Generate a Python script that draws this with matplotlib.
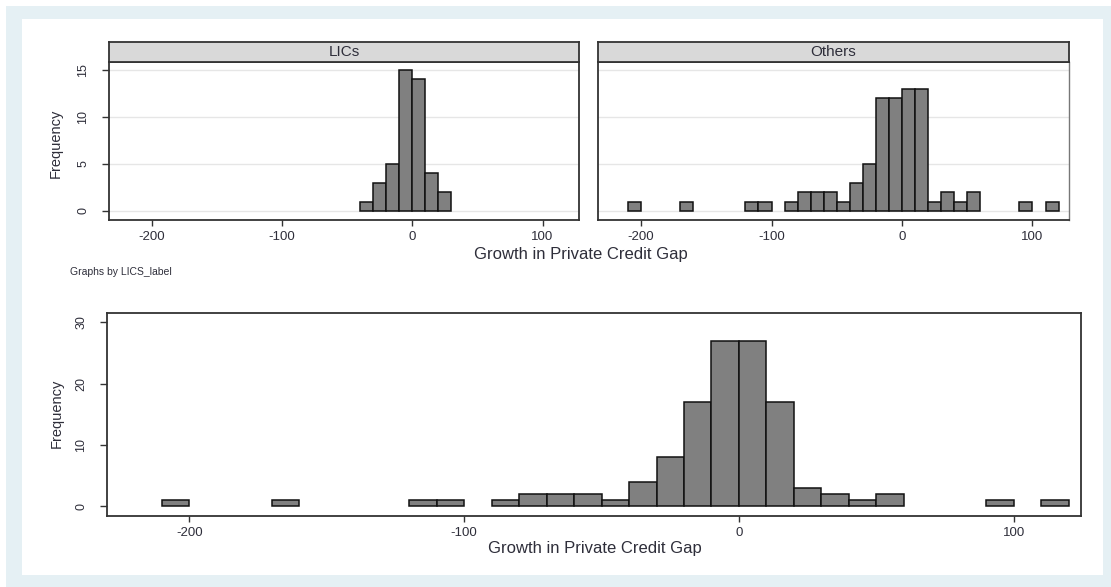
import numpy as np
import matplotlib
matplotlib.use('Agg')
import matplotlib.pyplot as plt
from matplotlib.patches import Rectangle

# histogram bins (width 10), left edges from -210 up to 110
bin_left = list(range(-210, 120, 10))
bin_width = 10

# frequencies
lics_counts = [0, 0, 0, 0, 0, 0, 0, 0, 0, 0, 0, 0, 0, 0, 0, 0, 0,
               1, 3, 5, 15, 14, 4, 2,
               0, 0, 0, 0, 0, 0, 0, 0, 0]
others_counts = [1, 0, 0, 0, 1, 0, 0, 0, 0, 1, 1, 0, 1, 2, 2, 2, 1,
                 3, 5, 12, 12, 13, 13, 1, 2, 1, 2, 0, 0, 0, 1, 0, 1]
panel_names = ['LICs', 'Others']

x_ticks = [-200, -100, 0, 100]
top_y_ticks = [0, 5, 10, 15]
bottom_y_ticks = [0, 10, 20, 30]
x_title = 'Growth in Private Credit Gap'
y_title = 'Frequency'
by_note = 'Graphs by LICS_label'

W, H = 1111, 587
plt.rcParams['font.family'] = ['Liberation Sans', 'DejaVu Sans']
plt.rcParams['axes.unicode_minus'] = False
txt = '#2e2e3a'
bar_fill = '#808080'
frame = '#333333'


def box(l, t, r, b):
    """pixel box -> figure fraction"""
    return [l / W, 1 - b / H, (r - l) / W, (b - t) / H]


def draw_hist(ax, counts):
    xs = [x for x, c in zip(bin_left, counts) if c > 0]
    hs = [c for c in counts if c > 0]
    ax.bar(xs, hs, width=bin_width, align='edge', color=bar_fill,
           edgecolor='#111111', linewidth=1.1, zorder=3)


def style(ax, ylabels=True):
    for s in ax.spines.values():
        s.set_color(frame)
        s.set_linewidth(1.3)
    ax.tick_params(axis='x', length=4, width=1, color=frame, pad=4,
                   labelsize=9.5, labelcolor=txt)
    ax.tick_params(axis='y', length=5, width=1, color=frame, pad=9,
                   labelsize=9, labelcolor=txt, labelrotation=90)
    for lab in ax.get_yticklabels():
        lab.set_va('center')
    if not ylabels:
        ax.tick_params(axis='y', length=0, labelleft=False)


fig = plt.figure(figsize=(W / 100, H / 100), dpi=100)
fig.patch.set_facecolor('white')
fig.add_artist(Rectangle((6 / W, 0), 1, 1 - 6 / H, transform=fig.transFigure,
                         facecolor='#e5f0f4', edgecolor='none', zorder=-5))
fig.add_artist(Rectangle((22 / W, 1 - 575 / H), (1103 - 22) / W, (575 - 19) / H,
                         transform=fig.transFigure, facecolor='white',
                         edgecolor='none', zorder=-4))

# top: by-group panels
panels = [(109, 579), (598, 1069)]
for i, (name, counts) in enumerate(zip(panel_names, [lics_counts, others_counts])):
    l, r = panels[i]
    ax = fig.add_axes(box(l, 62, r, 220))
    for g in top_y_ticks:
        ax.axhline(g, color='#e6e6e6', linewidth=1, zorder=1)
    draw_hist(ax, counts)
    ax.set_xlim(-233, 128)
    ax.set_ylim(-0.96, 15.85)
    ax.set_xticks(x_ticks)
    ax.set_yticks(top_y_ticks)
    style(ax, ylabels=(i == 0))
    if i == 1:
        ax.spines['right'].set_color('#777777')
        ax.spines['right'].set_linewidth(1)

    st = fig.add_axes(box(l, 42, r, 62))
    st.set_facecolor('#d9d9d9')
    st.set_xticks([])
    st.set_yticks([])
    for s in st.spines.values():
        s.set_color(frame)
        s.set_linewidth(1.3)
    st.text(0.5, 0.5, name, ha='center', va='center', fontsize=11,
            color=txt, transform=st.transAxes)

fig.text(581 / W, 1 - 255 / H, x_title, ha='center', va='center',
         fontsize=12, color=txt)
fig.text(56 / W, 1 - 143 / H, y_title, ha='center', va='center',
         rotation=90, fontsize=10.5, color=txt)
fig.text(70 / W, 1 - 272 / H, by_note, ha='left', va='center',
         fontsize=7.5, color=txt)

# bottom: all countries together
total_counts = [a + b for a, b in zip(lics_counts, others_counts)]
ax3 = fig.add_axes(box(107, 313, 1081, 516))
draw_hist(ax3, total_counts)
ax3.set_xlim(-230, 124.5)
ax3.set_ylim(-1.6, 31.5)
ax3.set_xticks(x_ticks)
ax3.set_yticks(bottom_y_ticks)
style(ax3)

fig.text(595 / W, 1 - 548 / H, x_title, ha='center', va='center',
         fontsize=12, color=txt)
fig.text(57 / W, 1 - 413 / H, y_title, ha='center', va='center',
         rotation=90, fontsize=10.5, color=txt)

fig.savefig('out.png', dpi=100)
